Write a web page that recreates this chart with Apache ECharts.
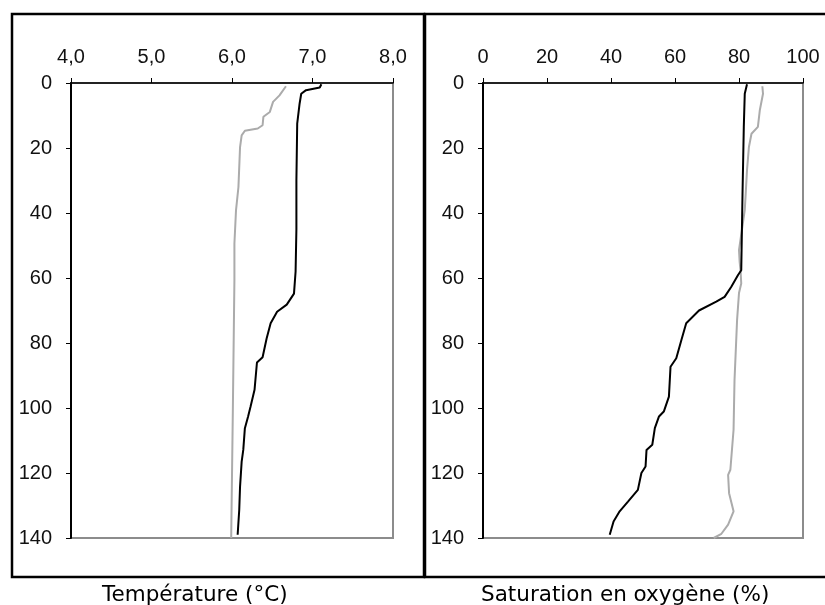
<!DOCTYPE html>
<html>
<head>
<meta charset="utf-8">
<script src="https://cdn.jsdelivr.net/npm/echarts@6/dist/echarts.min.js"></script>
<style>
  html, body { margin: 0; padding: 0; background: #fff; }
  #chart { width: 825px; height: 605px; }
</style>
</head>
<body>
<div id="chart"></div>
<script>
// profondeur (m) et valeurs
const tempBlackDepth = [0.4, 1.4, 2.2, 3.3, 6.3, 12.5, 30, 45, 58, 64.8, 68.2, 70.4, 73.9, 78.6, 84.4, 86.0, 94.4, 99.6, 102.6, 106.2, 112.9, 116.5, 124.2, 131.3, 139.0]
const tempBlack      = [7.11, 7.09, 6.92, 6.86, 6.84, 6.81, 6.80, 6.80, 6.79, 6.77, 6.68, 6.56, 6.48, 6.43, 6.38, 6.31, 6.28, 6.23, 6.20, 6.16, 6.14, 6.12, 6.10, 6.09, 6.07]

const tempGreyDepth = [1.0, 3.8, 5.8, 8.9, 10.4, 13.0, 14.0, 14.7, 16.1, 19.7, 32.0, 39.1, 49.4, 60.6, 101.6, 140]
const tempGrey      = [6.67, 6.59, 6.51, 6.47, 6.39, 6.38, 6.32, 6.16, 6.12, 6.10, 6.08, 6.05, 6.03, 6.03, 6.01, 5.99]

const oxyBlackDepth = [0.4, 3.3, 13.5, 34.0, 57.6, 59.1, 62.7, 65.8, 67.3, 70.0, 73.9, 79.1, 84.7, 87.3, 96.5, 101.1, 102.6, 106.2, 111.3, 112.9, 118.0, 120.0, 125.2, 128.8, 131.8, 134.9, 139.0]
const oxyBlack      = [82.5, 81.8, 81.5, 81.1, 80.7, 79.7, 77.6, 75.5, 72.9, 67.5, 63.5, 62.0, 60.4, 58.6, 58.1, 56.5, 55.0, 53.7, 52.9, 51.1, 50.8, 49.5, 48.4, 45.3, 42.7, 40.8, 39.6]

const oxyGreyDepth = [1.0, 3.3, 8.4, 13.5, 15.6, 19.7, 26.8, 34.0, 39.1, 48, 51.4, 55, 58, 61.7, 64.6, 72.9, 91.4, 106.7, 119.0, 120.6, 126.2, 131.8, 135.9, 138.7, 140]
const oxyGrey      = [87.3, 87.5, 86.5, 85.9, 83.9, 83.1, 82.5, 82.1, 81.8, 80.5, 80.0, 80.2, 80.5, 80.7, 80.0, 79.4, 78.6, 78.3, 77.3, 76.6, 76.9, 78.3, 76.6, 74.5, 72.1]

const captions = ['Température (°C)', 'Saturation en oxygène (%)']

const zip = (vals, depths) => vals.map((v, i) => [v, depths[i]])

const labelFont = { color: '#111', fontFamily: 'Liberation Sans, Arial, sans-serif', fontSize: 20 }

function xAxisFor(idx, min, max, interval, fmt){
    return {
        gridIndex: idx, type: 'value', position: 'top',
        min: min, max: max, interval: interval,
        axisLine: { show: true, onZero: false, lineStyle: { color: '#000', width: 1.5 } },
        axisTick: { show: true, length: 5, lineStyle: { color: '#000', width: 1 } },
        axisLabel: Object.assign({ margin: 16, formatter: fmt }, labelFont),
        splitLine: { show: false }
    }
}

function yAxisFor(idx){
    return {
        gridIndex: idx, type: 'value', inverse: true,
        min: 0, max: 140, interval: 20,
        axisLine: { show: true, onZero: false, lineStyle: { color: '#000', width: 2 } },
        axisTick: { show: true, length: 5, lineStyle: { color: '#000', width: 1 } },
        axisLabel: Object.assign({ margin: 19 }, labelFont),
        splitLine: { show: false }
    }
}

function lineSeries(idx, data, color){
    return {
        type: 'line', xAxisIndex: idx, yAxisIndex: idx,
        data: data, showSymbol: false, symbol: 'none',
        lineStyle: { color: color, width: 2 },
        animation: false
    }
}

const chart = echarts.init(document.getElementById('chart'))

const gridBase = { top: 83, height: 455, show: true, borderColor: '#8c8c8c', borderWidth: 2, containLabel: false }

chart.setOption({
    animation: false,
    backgroundColor: '#fff',
    grid: [
        Object.assign({ left: 71, width: 322 }, gridBase),
        Object.assign({ left: 483, width: 320 }, gridBase)
    ],
    xAxis: [
        xAxisFor(0, 4, 8, 1, v => v.toFixed(1).replace('.', ',')),
        xAxisFor(1, 0, 100, 20, v => String(v))
    ],
    yAxis: [yAxisFor(0), yAxisFor(1)],
    series: [
        lineSeries(0, zip(tempGrey, tempGreyDepth), '#ababab'),
        lineSeries(0, zip(tempBlack, tempBlackDepth), '#000'),
        lineSeries(1, zip(oxyGrey, oxyGreyDepth), '#ababab'),
        lineSeries(1, zip(oxyBlack, oxyBlackDepth), '#000')
    ],
    graphic: [
        { type: 'rect', shape: { x: 12, y: 14, width: 412, height: 563 },
          style: { fill: 'none', stroke: '#000', lineWidth: 2.5 } },
        { type: 'rect', shape: { x: 425, y: 14, width: 420, height: 563 },
          style: { fill: 'none', stroke: '#000', lineWidth: 2.5 } },
        { type: 'text', left: 102, top: 584,
          style: { text: captions[0], fill: '#000', font: '21.5px "DejaVu Sans"' } },
        { type: 'text', left: 481, top: 584,
          style: { text: captions[1], fill: '#000', font: '21.5px "DejaVu Sans"' } }
    ]
})
</script>
</body>
</html>
